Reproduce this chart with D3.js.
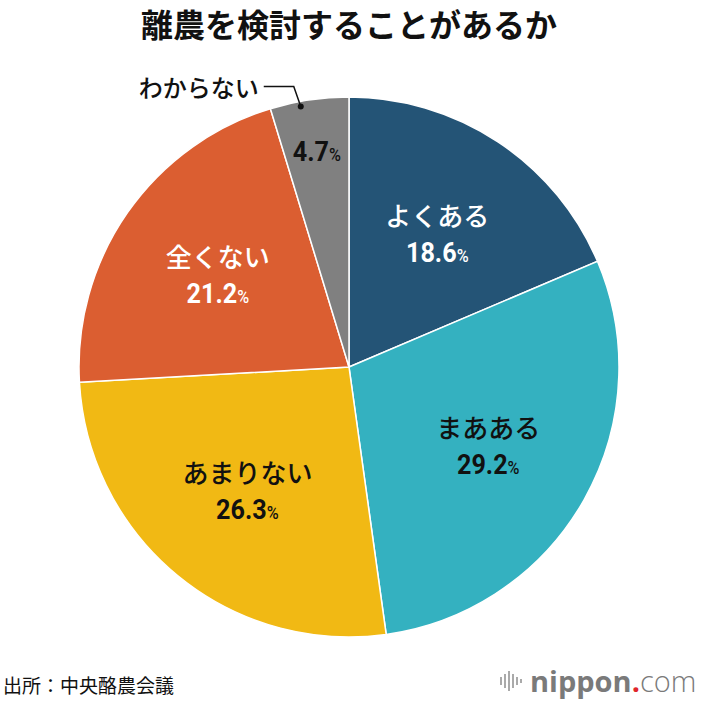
<!DOCTYPE html>
<html>
<head>
<meta charset="utf-8">
<script src="https://cdn.jsdelivr.net/npm/d3@7"></script>
<style>
  body { margin: 0; background: #fff; }
  svg { display: block; }
</style>
</head>
<body>
<div id="chart"></div>
<script>
// Daten
const categories = ["よくある", "まあある", "あまりない", "全くない", "わからない"];
const values = [18.6, 29.2, 26.3, 21.2, 4.7];
const colors = ["#245476", "#34b1c0", "#f1b914", "#db5e31", "#808080"];
const labelColors = ["#fff", "#111", "#111", "#fff", "#111"];
const title = "離農を検討することがあるか";
const source = "出所：中央酪農会議";

const W = 702, H = 702;
const cx = 349, cy = 367, radius = 270;

const jp = "'Noto Sans CJK JP', 'Noto Sans', sans-serif";
const num = "'Roboto', 'Liberation Sans', sans-serif";

const svg = d3.select("#chart").append("svg")
    .attr("width", W).attr("height", H);

// Titel
svg.append("text")
    .attr("x", 349).attr("y", 37)
    .attr("text-anchor", "middle")
    .style("font-family", jp)
    .style("font-weight", 700)
    .style("font-size", "32px")
    .attr("fill", "#111")
    .text(title);

const g = svg.append("g").attr("transform", `translate(${cx},${cy})`);

const data = categories.map((c, i) => ({ label: c, value: values[i], i }));
const pie = d3.pie().sort(null).value(d => d.value);
const arcs = pie(data);

const arc = d3.arc().innerRadius(0).outerRadius(radius);
const labelArc = d3.arc().innerRadius(160).outerRadius(160);
const smallArc = d3.arc().innerRadius(218).outerRadius(218);

g.selectAll("path")
    .data(arcs)
    .enter()
    .append("path")
    .attr("d", arc)
    .attr("fill", d => colors[d.data.i])
    .attr("stroke", "#fff")
    .attr("stroke-width", 1.5);

// Beschriftungen innerhalb der Segmente (außer "わからない")
const inner = arcs.filter(d => d.data.i < 4);
const lab = g.selectAll("g.lab")
    .data(inner)
    .enter()
    .append("g")
    .attr("class", "lab")
    .attr("transform", d => `translate(${labelArc.centroid(d)})`);

lab.append("text")
    .attr("y", -8)
    .attr("text-anchor", "middle")
    .style("font-family", jp)
    .style("font-weight", 500)
    .style("font-size", "26px")
    .attr("fill", d => labelColors[d.data.i])
    .text(d => d.data.label);

const pct = lab.append("text")
    .attr("y", 28)
    .attr("text-anchor", "middle")
    .attr("transform", "scale(0.9,1)")
    .style("font-family", num)
    .style("font-weight", 700)
    .attr("fill", d => labelColors[d.data.i]);
pct.append("tspan").style("font-size", "28px").text(d => d.data.value.toFixed(1));
pct.append("tspan").style("font-size", "18px").style("font-weight", 500).text("%");

// "わからない" mit Führungslinie
const small = arcs[4];
const [px, py] = smallArc.centroid(small);
const sp = g.append("text")
    .attr("text-anchor", "middle")
    .attr("transform", `translate(${px},${py + 10}) scale(0.9,1)`)
    .style("font-family", num)
    .style("font-weight", 700)
    .attr("fill", labelColors[4]);
sp.append("tspan").style("font-size", "28px").text(small.data.value.toFixed(1));
sp.append("tspan").style("font-size", "18px").style("font-weight", 500).text("%");

const [dx, dy] = d3.pointRadial(small.startAngle + (small.endAngle - small.startAngle) * 0.38, radius - 5);
g.append("circle")
    .attr("cx", dx).attr("cy", dy).attr("r", 3)
    .attr("fill", "#111");
g.append("path")
    .attr("d", `M${dx},${dy} L${dx - 7},${dy - 20} L${dx - 37},${dy - 20}`)
    .attr("fill", "none")
    .attr("stroke", "#111")
    .attr("stroke-width", 1.5);
g.append("text")
    .attr("x", dx - 42).attr("y", dy - 9)
    .attr("text-anchor", "end")
    .style("font-family", jp)
    .style("font-weight", 500)
    .style("font-size", "24px")
    .attr("fill", "#111")
    .text(small.data.label);

// Quelle
svg.append("text")
    .attr("x", 3).attr("y", 693)
    .style("font-family", jp)
    .style("font-size", "19px")
    .attr("fill", "#111")
    .text(source);

// Logo nippon.com
const logo = svg.append("g").attr("transform", "translate(500,683)");
[[0, 8], [4, 14], [8, 20], [12, 14], [16, 8], [20, 4]].forEach(([x, h]) => {
    logo.append("rect")
        .attr("x", x).attr("y", -h / 2 - 2).attr("width", 2).attr("height", h)
        .attr("fill", "#aaa");
});
const lt = logo.append("text")
    .attr("x", 30).attr("y", 9)
    .style("font-family", "'Open Sans', sans-serif")
    .style("font-size", "29px")
    .attr("fill", "#7a7a7a");
lt.append("tspan").style("font-weight", 700).text("nippon");
lt.append("tspan").style("font-weight", 700).attr("fill", "#e0262b").text(".");
lt.append("tspan").style("font-weight", 300).text("com");
</script>
</body>
</html>
